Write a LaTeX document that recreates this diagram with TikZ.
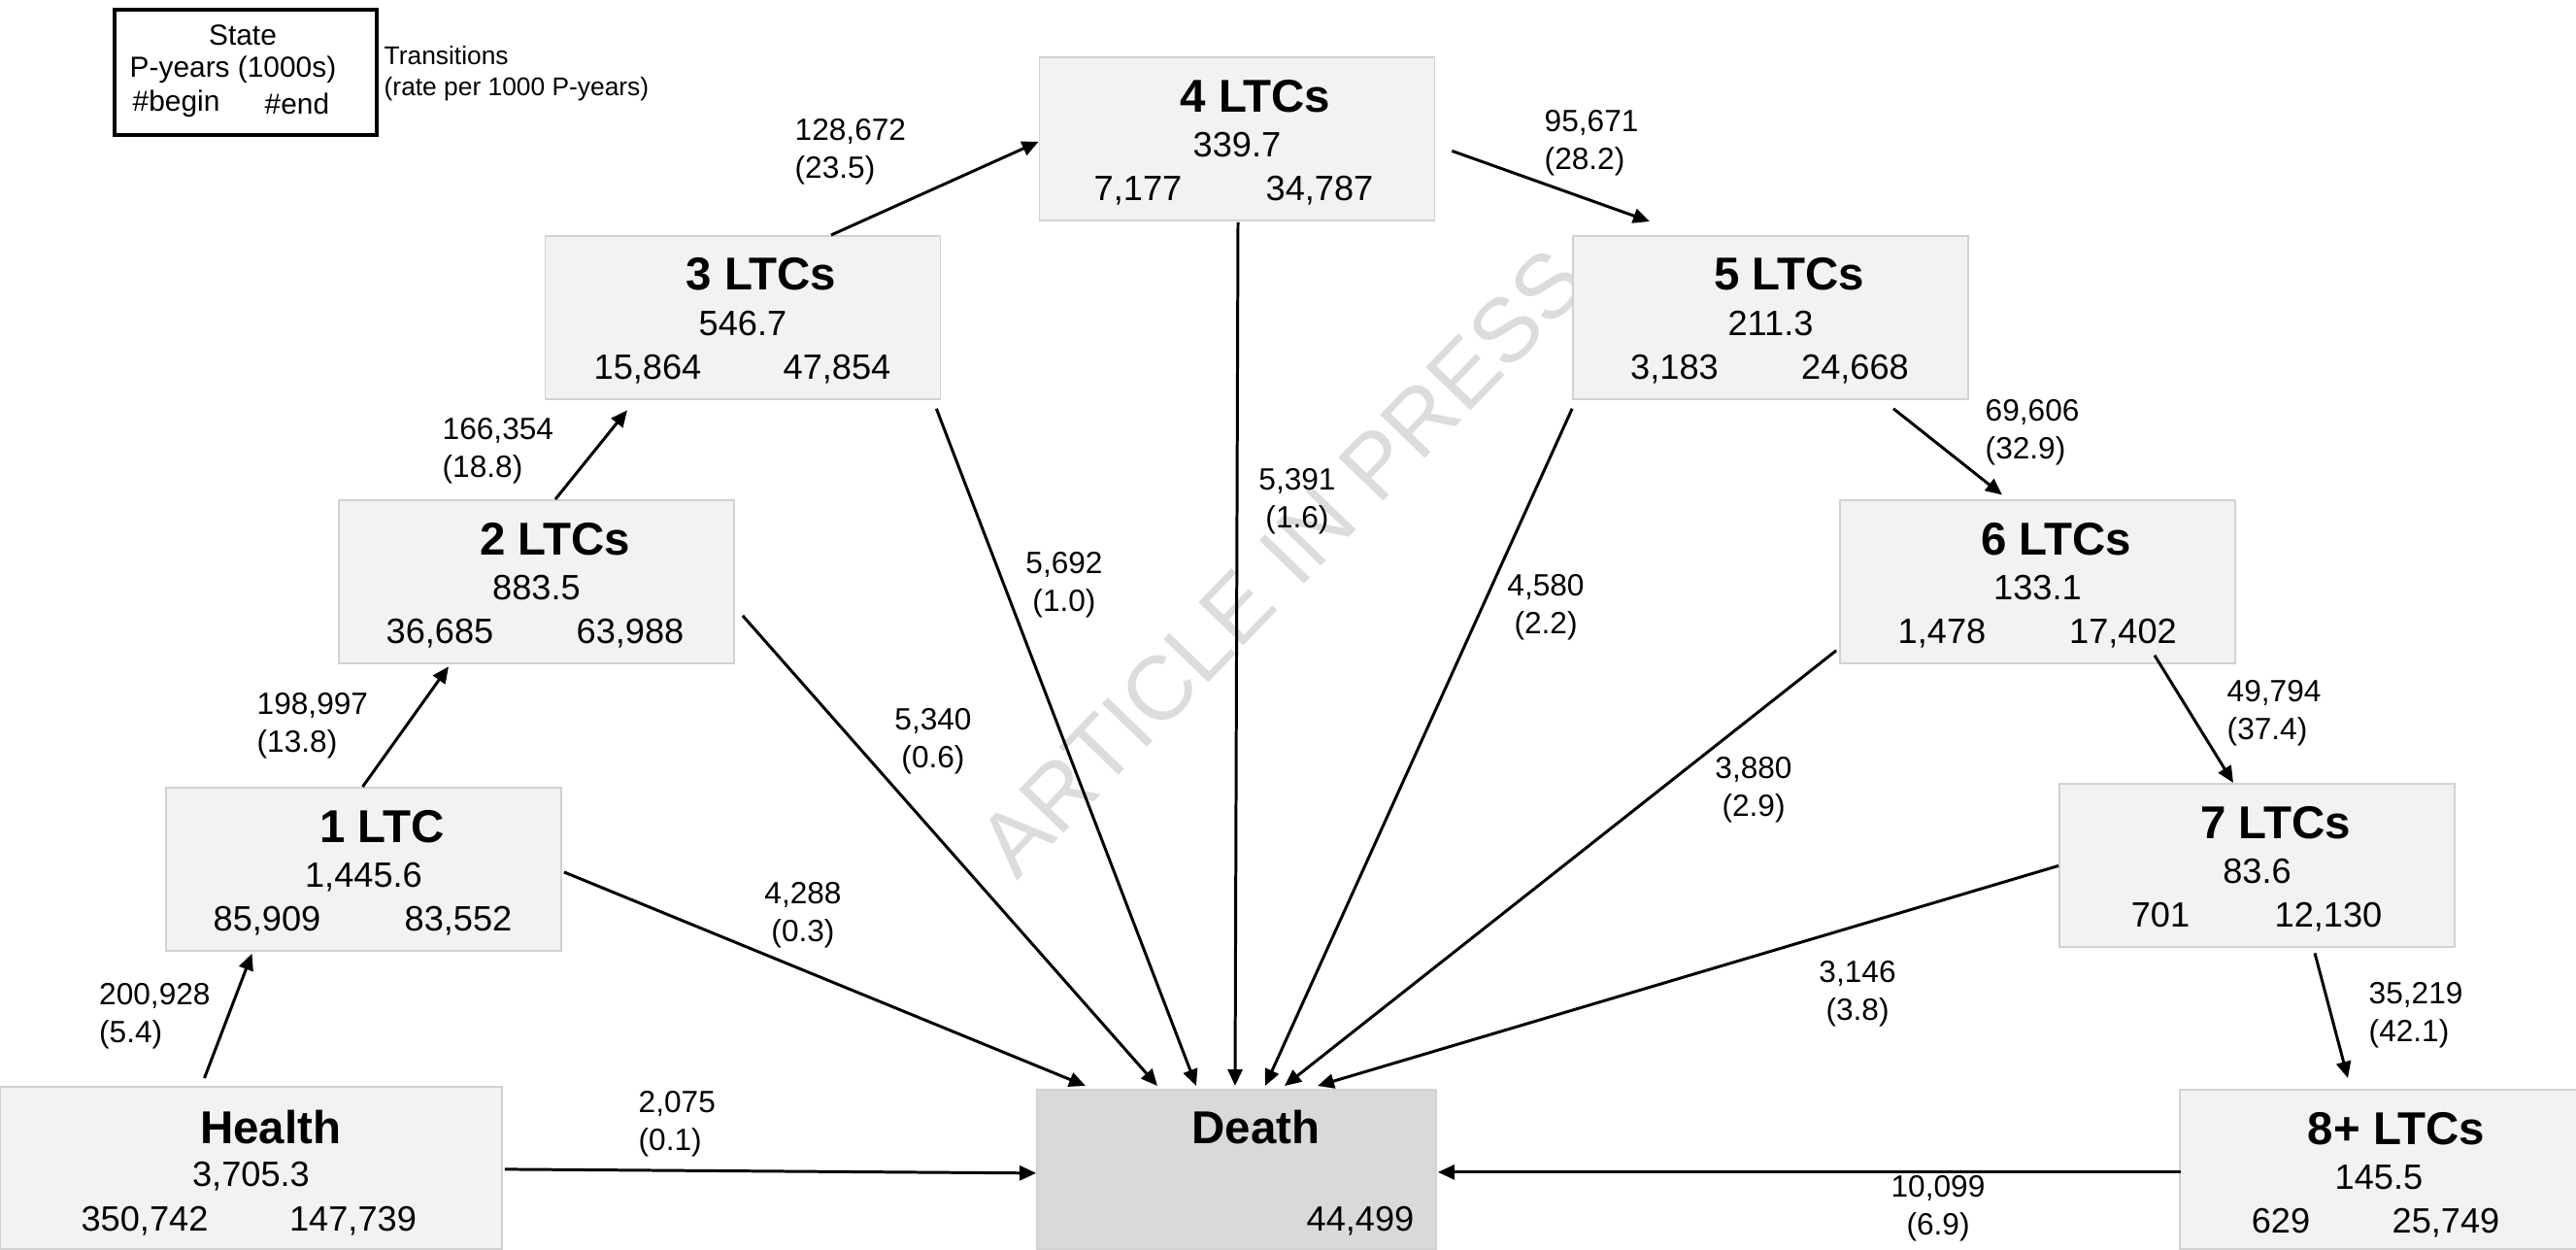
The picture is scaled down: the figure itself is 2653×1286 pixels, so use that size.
\documentclass[tikz,border=0pt]{standalone}
\usepackage{fontspec}
\setmainfont{Liberation Sans}
\usetikzlibrary{arrows.meta,calc}
\definecolor{boxfill}{HTML}{F2F2F2}
\definecolor{boxline}{HTML}{D2D2D2}
\definecolor{deathfill}{HTML}{D9D9D9}
\definecolor{wmgray}{HTML}{DCDCDC}
\begin{document}
\begin{tikzpicture}[x=0.1mm,y=-0.1mm,
  statebox/.style={draw=boxline, fill=boxfill, line width=0.5pt, inner sep=0, minimum width=40.7mm, minimum height=16.8mm, anchor=north},
  deathbox/.style={statebox, fill=deathfill},
  ttl/.style={font=\fontsize{13.5}{16}\selectfont\bfseries, anchor=base, inner sep=0},
  num/.style={font=\fontsize{10.3}{12}\selectfont, anchor=base, inner sep=0},
  lbl/.style={font=\fontsize{9}{11.2}\selectfont, inner sep=0},
  lbll/.style={lbl, align=left, anchor=west},
  lblc/.style={lbl, align=center},
  leg/.style={font=\fontsize{8.5}{10}\selectfont, inner sep=0},
  arr/.style={line width=0.85pt, -{Triangle[length=1.7mm,width=1.5mm]}},
]
\useasboundingbox (0,0) rectangle (2653,1286);

% watermark
\node[rotate=46, text=wmgray, font=\fontsize{26.5}{30}\selectfont, inner sep=0] (wmk) at (1320,579) {ARTICLE IN PRESS};

% legend
\node[draw, line width=1.1pt, minimum width=27mm, minimum height=12.9mm, anchor=north west, inner sep=0] (legbox) at (116,8) {};
\node[leg] (legs) at (250,36) {State};
\node[leg] (legp) at (240,72) {P-years (1000s)};
\node[leg, anchor=west] (legb) at (136,107) {\#begin};
\node[leg, anchor=west] (lege) at (272,107) {\#end};
\node[font=\fontsize{7.5}{9}\selectfont, inner sep=0, anchor=west] (legt1) at (395,57) {Transitions};
\node[font=\fontsize{7.5}{9}\selectfont, inner sep=0, anchor=west] (legt2) at (395,92) {(rate per 1000 P-years)};

% state boxes
\node[statebox, minimum width=51.7mm, minimum height=16.7mm] (bH) at (258.5,1118) {};
\node[ttl] (bHt) at ($(bH.north)+(20,59)$) {Health};
\node[num] (bHp) at ($(bH.north)+(0,103)$) {3,705.3};
\node[num] (bHb) at ($(bH.north)+(-109.5,149)$) {350,742};
\node[num] (bHe) at ($(bH.north)+(105,149)$) {147,739};

\node[statebox] (b1) at (374.5,810) {};
\node[ttl] (b1t) at ($(b1.north)+(19,57)$) {1 LTC};
\node[num] (b1p) at ($(b1.north)+(0,103)$) {1,445.6};
\node[num] (b1b) at ($(b1.north)+(-99.5,148)$) {85,909};
\node[num] (b1e) at ($(b1.north)+(97.5,148)$) {83,552};

\node[statebox] (b2) at (552.5,514) {};
\node[ttl] (b2t) at ($(b2.north)+(19,57)$) {2 LTCs};
\node[num] (b2p) at ($(b2.north)+(0,103)$) {883.5};
\node[num] (b2b) at ($(b2.north)+(-99.5,148)$) {36,685};
\node[num] (b2e) at ($(b2.north)+(96.5,148)$) {63,988};

\node[statebox] (b3) at (765,242) {};
\node[ttl] (b3t) at ($(b3.north)+(19,56)$) {3 LTCs};
\node[num] (b3p) at ($(b3.north)+(0,103)$) {546.7};
\node[num] (b3b) at ($(b3.north)+(-98,148)$) {15,864};
\node[num] (b3e) at ($(b3.north)+(97,148)$) {47,854};

\node[statebox] (b4) at (1274,58) {};
\node[ttl] (b4t) at ($(b4.north)+(19,57)$) {4 LTCs};
\node[num] (b4p) at ($(b4.north)+(0,103)$) {339.7};
\node[num] (b4b) at ($(b4.north)+(-102,148)$) {7,177};
\node[num] (b4e) at ($(b4.north)+(85,148)$) {34,787};

\node[statebox] (b5) at (1823.5,242) {};
\node[ttl] (b5t) at ($(b5.north)+(19,56)$) {5 LTCs};
\node[num] (b5p) at ($(b5.north)+(0,103)$) {211.3};
\node[num] (b5b) at ($(b5.north)+(-99,148)$) {3,183};
\node[num] (b5e) at ($(b5.north)+(87,148)$) {24,668};

\node[statebox] (b6) at (2098.5,514) {};
\node[ttl] (b6t) at ($(b6.north)+(19,57)$) {6 LTCs};
\node[num] (b6p) at ($(b6.north)+(0,103)$) {133.1};
\node[num] (b6b) at ($(b6.north)+(-98.5,148)$) {1,478};
\node[num] (b6e) at ($(b6.north)+(88,148)$) {17,402};

\node[statebox] (b7) at (2324.5,806) {};
\node[ttl] (b7t) at ($(b7.north)+(19,57)$) {7 LTCs};
\node[num] (b7p) at ($(b7.north)+(0,103)$) {83.6};
\node[num] (b7b) at ($(b7.north)+(-99.5,148)$) {701};
\node[num] (b7e) at ($(b7.north)+(73.5,148)$) {12,130};

\node[statebox, minimum width=41mm, minimum height=16.4mm] (b8) at (2450,1121) {};
\node[ttl] (b8t) at ($(b8.north)+(18,57)$) {8+ LTCs};
\node[num] (b8p) at ($(b8.north)+(0,103)$) {145.5};
\node[num] (b8b) at ($(b8.north)+(-101,148)$) {629};
\node[num] (b8e) at ($(b8.north)+(69,148)$) {25,749};

\node[deathbox, minimum width=41.1mm, minimum height=16.4mm] (bD) at (1273.5,1121) {};
\node[ttl] (bDt) at ($(bD.north)+(20,56)$) {Death};
\node[num] (bDe) at ($(bD.north)+(127.5,146)$) {44,499};

% progression arrows
\draw[arr] ($(bH.north)+(-48,-8)$) -- ($(b1.south)+(-115,2)$);
\draw[arr] ($(b1.north)+(-1,0)$) -- ($(b2.south)+(-90.5,2.5)$);
\draw[arr] ($(b2.north)+(19.5,0)$) -- ($(b3.south)+(-119,10.6)$);
\draw[arr] ($(b3.north)+(91,0)$) -- ($(b4.west)+(0,3)$);
\draw[arr] ($(b4.east)+(17,12.5)$) -- ($(b5.north)+(-124.5,-14)$);
\draw[arr] ($(b5.south)+(126.5,9)$) -- ($(b6.north)+(-36.5,-4.5)$);
\draw[arr] ($(b6.south)+(120.5,-9)$) -- ($(b7.north)+(-24.5,0)$);
\draw[arr] ($(b7.south)+(59.5,5.6)$) -- ($(b8.north)+(-32,-11)$);

% death arrows
\draw[arr] ($(b1.east)+(2,3)$) -- ($(bD.north)+(-155.5,-3)$);
\draw[arr] ($(b2.east)+(8,35)$) -- ($(bD.north)+(-81.5,-3)$);
\draw[arr] ($(b3.south east)+(-5,9)$) -- ($(bD.north)+(-41.5,-3)$);
\draw[arr] ($(b4.south)+(1,1)$) -- ($(bD.north)+(-1.5,-3)$);
\draw[arr] ($(b5.south west)+(0,9)$) -- ($(bD.north)+(29.5,-3)$);
\draw[arr] ($(b6.south west)+(-3,-14)$) -- ($(bD.north)+(49.5,-3)$);
\draw[arr] ($(b7.west)+(0,0.5)$) -- ($(bD.north)+(83.5,-3)$);
\draw[arr] ($(bH.east)+(2,1.5)$) -- ($(bD.west)+(0,4)$);
\draw[arr] ($(b8.west)+(2,3)$) -- ($(bD.east)+(1,3)$);

% transition labels
\node[lbll] (l1) at (101.5,1046.5) {200,928\\(5.4)};
\node[lbll] (l2) at (264,747) {198,997\\(13.8)};
\node[lbll] (l3) at (455,464.5) {166,354\\(18.8)};
\node[lbll] (l4) at (818,156) {128,672\\(23.5)};
\node[lbll] (l5) at (1590,147) {95,671\\(28.2)};
\node[lbll] (l6) at (2044,445) {69,606\\(32.9)};
\node[lbll] (l7) at (2293,734) {49,794\\(37.4)};
\node[lbll] (l8) at (2439,1045.5) {35,219\\(42.1)};
\node[lbll] (lHD) at (657,1157) {2,075\\(0.1)};
\node[lblc] (l1D) at (827,942) {4,288\\(0.3)};
\node[lblc] (l2D) at (961,763) {5,340\\(0.6)};
\node[lblc] (l3D) at (1096,602.5) {5,692\\(1.0)};
\node[lblc] (l4D) at (1336,516.5) {5,391\\(1.6)};
\node[lblc] (l5D) at (1592,625) {4,580\\(2.2)};
\node[lblc] (l6D) at (1806,813) {3,880\\(2.9)};
\node[lblc] (l7D) at (1913,1023) {3,146\\(3.8)};
\node[lblc] (l8D) at (1996,1244) {10,099\\(6.9)};
\end{tikzpicture}
\end{document}
